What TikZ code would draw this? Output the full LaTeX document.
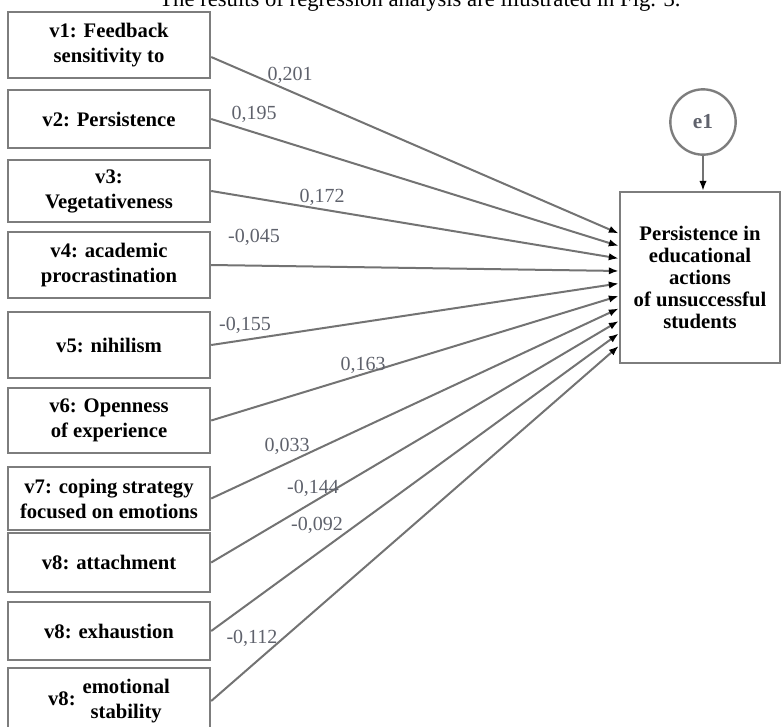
\documentclass[tikz,border=0pt]{standalone}
\usepackage{fontspec}
\setmainfont{Liberation Serif}
\usetikzlibrary{arrows.meta,calc}
\definecolor{linegray}{RGB}{115,115,115}
\definecolor{boxgray}{RGB}{125,125,125}
\definecolor{coefgray}{RGB}{95,98,108}
\tikzset{
  varbox/.style={draw=boxgray, line width=1.8pt, minimum width=151.5pt, inner sep=0pt,
    align=center, font=\fontsize{15.5}{18.75}\selectfont\bfseries},
  regline/.style={draw=linegray, line width=1.5pt, -{Latex[length=7.5pt,width=5.5pt,color=black]}},
  coef/.style={text=coefgray, inner sep=0pt, font=\fontsize{15}{18}\selectfont},
}

\begin{document}
\begin{tikzpicture}[x=0.75pt,y=-0.75pt]
  \useasboundingbox (0,0) rectangle (782,726);
  \clip (0,0) rectangle (782,726);
  \node[anchor=base, inner sep=0pt, font=\fontsize{17}{20}\selectfont] (cap) at (420,6)
    {The results of regression analysis are illustrated in Fig. 3.};

  % predictors
  \node[varbox, minimum height=49.5pt] (v1) at (109,45) {v1: Feedback\\sensitivity to};
  \node[varbox, minimum height=43.5pt] (v2) at (109,119) {v2: Persistence};
  \node[varbox, minimum height=46.5pt] (v3) at (109,191) {v3:\\Vegetativeness};
  \node[varbox, minimum height=49.5pt] (v4) at (109,265) {v4: academic\\procrastination};
  \node[varbox, minimum height=49.5pt] (v5) at (109,345) {v5: nihilism};
  \node[varbox, minimum height=48.75pt] (v6) at (109,420.5) {v6: Openness\\of experience};
  \node[varbox, minimum height=47.25pt] (v7) at (109,498.5) {v7: coping strategy\\focused on emotions};
  \node[varbox, minimum height=44.25pt] (v8) at (109,562.5) {v8: attachment};
  \node[varbox, minimum height=43.5pt] (v9) at (109,631) {v8: exhaustion};
  \node[varbox, minimum height=49.5pt] (v10) at (109,701)
    {v8: \begin{tabular}{@{}c@{}}emotional\\stability\end{tabular}};

  % outcome and error
  \node[draw=boxgray, line width=1.8pt, minimum width=120pt, minimum height=128pt,
    align=center, font=\fontsize{15.5}{16.5}\selectfont\bfseries] (dep) at (700,277.5)
    {Persistence in\\educational\\actions\\of unsuccessful\\students};
  \node[circle, draw=boxgray, line width=1.8pt, minimum size=49pt, inner sep=0pt,
    text=coefgray, font=\fontsize{16}{18}\selectfont\bfseries] (e1) at (703,122) {e1};
  \draw[regline] (e1) -- (e1 |- dep.north);

  \foreach \i in {1,...,10}
    \coordinate (t\i) at ($(dep.north west)+(0,{30+12.5*\i})$);

  \draw[regline] ([yshift=-9pt]v1.east) -- (t1);
  \draw[regline] (v2.east) -- (t2);
  \draw[regline] (v3.east) -- (t3);
  \draw[regline] (v4.east) -- (t4);
  \draw[regline] (v5.east) -- (t5);
  \draw[regline] (v6.east) -- (t6);
  \draw[regline] (v7.east) -- (t7);
  \draw[regline] (v8.east) -- (t8);
  \draw[regline] (v9.east) -- (t9);
  \draw[regline] (v10.east) -- (t10);

  % coefficients
  \node[coef] (c1) at (290,75) {0,201};
  \node[coef] (c2) at (254,114) {0,195};
  \node[coef] (c3) at (322,197) {0,172};
  \node[coef] (c4) at (254,237) {-0,045};
  \node[coef] (c5) at (245,325) {-0,155};
  \node[coef] (c6) at (363,365) {0,163};
  \node[coef] (c7) at (287,446) {0,033};
  \node[coef] (c8) at (313,488) {-0,144};
  \node[coef] (c9) at (317,525) {-0,092};
  \node[coef] (c10) at (252,638) {-0,112};
\end{tikzpicture}
\end{document}
